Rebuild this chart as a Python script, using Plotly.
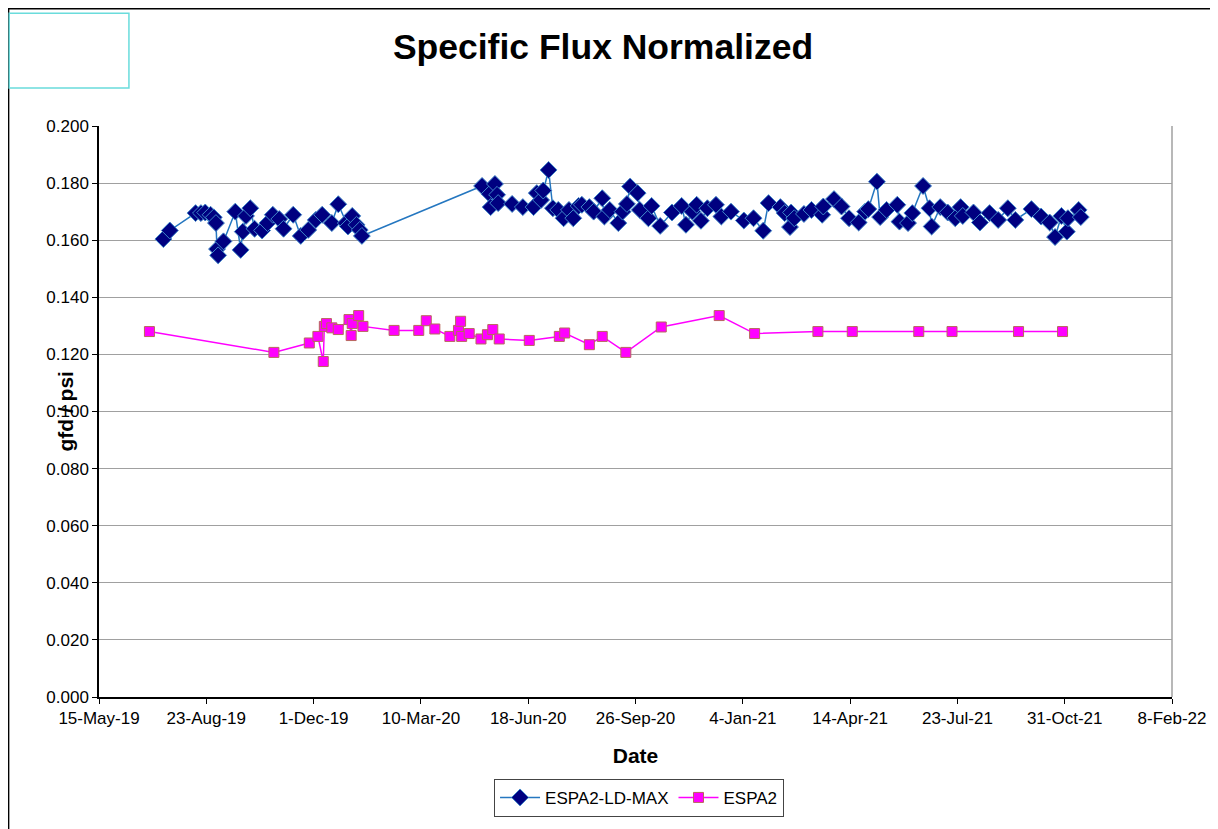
import plotly.graph_objects as go

# ---------------- data ----------------
ld_max_dates = [
    "2019-07-14", "2019-07-20", "2019-08-13", "2019-08-18", "2019-08-22", "2019-08-27", "2019-08-30",
    "2019-09-01", "2019-09-02", "2019-09-03", "2019-09-08", "2019-09-19", "2019-09-24", "2019-09-26",
    "2019-09-29", "2019-10-03", "2019-10-07", "2019-10-14", "2019-10-19", "2019-10-24", "2019-10-30",
    "2019-11-03", "2019-11-12", "2019-11-19", "2019-11-26", "2019-12-03", "2019-12-09", "2019-12-18",
    "2019-12-24", "2019-12-31", "2020-01-02", "2020-01-06", "2020-01-10", "2020-01-13", "2020-01-15",
    "2020-05-06", "2020-05-13", "2020-05-14", "2020-05-18", "2020-05-20", "2020-05-21", "2020-06-03",
    "2020-06-13", "2020-06-23", "2020-06-26", "2020-06-30", "2020-07-02", "2020-07-07", "2020-07-11",
    "2020-07-16", "2020-07-21", "2020-07-26", "2020-07-30", "2020-08-04", "2020-08-07", "2020-08-14",
    "2020-08-18", "2020-08-26", "2020-08-28", "2020-09-02", "2020-09-10", "2020-09-14", "2020-09-18",
    "2020-09-21", "2020-09-28", "2020-09-30", "2020-10-08", "2020-10-11", "2020-10-19", "2020-10-30",
    "2020-11-08", "2020-11-12", "2020-11-18", "2020-11-22", "2020-11-26", "2020-12-02", "2020-12-10",
    "2020-12-15", "2020-12-24", "2021-01-05", "2021-01-14", "2021-01-23", "2021-01-28", "2021-02-08",
    "2021-02-12", "2021-02-17", "2021-02-18", "2021-02-21", "2021-03-02", "2021-03-09", "2021-03-19",
    "2021-03-20", "2021-03-30", "2021-04-06", "2021-04-13", "2021-04-22", "2021-04-28", "2021-05-01",
    "2021-05-09", "2021-05-12", "2021-05-18", "2021-05-28", "2021-05-30", "2021-06-07", "2021-06-11",
    "2021-06-21", "2021-06-27", "2021-06-29", "2021-07-07", "2021-07-14", "2021-07-21", "2021-07-26",
    "2021-07-28", "2021-08-07", "2021-08-13", "2021-08-22", "2021-08-30", "2021-09-08", "2021-09-15",
    "2021-09-30", "2021-10-09", "2021-10-17", "2021-10-22", "2021-10-28", "2021-11-02", "2021-11-03",
    "2021-11-13", "2021-11-15",
]
ld_max_values = [
    0.1604, 0.1634, 0.1695, 0.1695, 0.1697, 0.1689, 0.1680,
    0.1660, 0.1569, 0.1547, 0.1596, 0.1700, 0.1566, 0.1630,
    0.1685, 0.1712, 0.1640, 0.1634, 0.1660, 0.1689, 0.1674,
    0.1640, 0.1689, 0.1615, 0.1636, 0.1671, 0.1689, 0.1660,
    0.1726, 0.1660, 0.1648, 0.1685, 0.1654, 0.1636, 0.1615,
    0.1790, 0.1762, 0.1716, 0.1797, 0.1759, 0.1730, 0.1727,
    0.1716, 0.1716, 0.1765, 0.1741, 0.1774, 0.1846, 0.1712,
    0.1706, 0.1677, 0.1706, 0.1677, 0.1720, 0.1724, 0.1716,
    0.1700, 0.1747, 0.1683, 0.1706, 0.1660, 0.1700, 0.1727,
    0.1788, 0.1765, 0.1706, 0.1677, 0.1720, 0.1650, 0.1697,
    0.1720, 0.1654, 0.1700, 0.1724, 0.1668, 0.1712, 0.1724,
    0.1683, 0.1700, 0.1669, 0.1677, 0.1633, 0.1730, 0.1716,
    0.1695, 0.1646, 0.1697, 0.1677, 0.1692, 0.1706, 0.1689,
    0.1718, 0.1744, 0.1718, 0.1677, 0.1662, 0.1700, 0.1709,
    0.1805, 0.1681, 0.1706, 0.1724, 0.1665, 0.1660, 0.1695,
    0.1790, 0.1712, 0.1648, 0.1716, 0.1697, 0.1677, 0.1716,
    0.1685, 0.1697, 0.1662, 0.1695, 0.1671, 0.1712, 0.1671,
    0.1709, 0.1683, 0.1662, 0.1611, 0.1685, 0.1630, 0.1677,
    0.1706, 0.1681,
]

espa2_dates = [
    "2019-07-01", "2019-10-25", "2019-11-27", "2019-12-05", "2019-12-10", "2019-12-11", "2019-12-13",
    "2019-12-18", "2019-12-24", "2020-01-03", "2020-01-05", "2020-01-06", "2020-01-12", "2020-01-16",
    "2020-02-14", "2020-03-08", "2020-03-15", "2020-03-23", "2020-04-06", "2020-04-14", "2020-04-16",
    "2020-04-17", "2020-04-24", "2020-05-05", "2020-05-11", "2020-05-16", "2020-05-22", "2020-06-19",
    "2020-07-17", "2020-07-22", "2020-08-14", "2020-08-26", "2020-09-17", "2020-10-20", "2020-12-13",
    "2021-01-15", "2021-03-15", "2021-04-16", "2021-06-17", "2021-07-18", "2021-09-18", "2021-10-29",
]
espa2_values = [
    0.1280, 0.1207, 0.1240, 0.1263, 0.1175, 0.1298, 0.1308,
    0.1293, 0.1287, 0.1322, 0.1266, 0.1308, 0.1336, 0.1298,
    0.1284, 0.1284, 0.1318, 0.1289, 0.1263, 0.1284, 0.1316,
    0.1263, 0.1273, 0.1254, 0.1269, 0.1287, 0.1254, 0.1249,
    0.1263, 0.1275, 0.1234, 0.1263, 0.1207, 0.1296, 0.1336,
    0.1273, 0.1280, 0.1280, 0.1280, 0.1280, 0.1280, 0.1280,
]

x_tick_dates = ["2019-05-15", "2019-08-23", "2019-12-01", "2020-03-10", "2020-06-18", "2020-09-26",
                "2021-01-04", "2021-04-14", "2021-07-23", "2021-10-31", "2022-02-08"]
x_tick_labels = ["15-May-19", "23-Aug-19", "1-Dec-19", "10-Mar-20", "18-Jun-20", "26-Sep-20",
                 "4-Jan-21", "14-Apr-21", "23-Jul-21", "31-Oct-21", "8-Feb-22"]
y_tick_vals = [0.0, 0.02, 0.04, 0.06, 0.08, 0.10, 0.12, 0.14, 0.16, 0.18, 0.20]

FONT = "Liberation Sans, Arial, sans-serif"

fig = go.Figure()
fig.add_trace(go.Scatter(
    x=ld_max_dates, y=ld_max_values, name="ESPA2-LD-MAX", mode="lines+markers",
    line=dict(color="#2577c0", width=1.5),
    marker=dict(symbol="diamond", size=13, color="#000080", line=dict(color="#3f86c8", width=1)),
))
fig.add_trace(go.Scatter(
    x=espa2_dates, y=espa2_values, name="ESPA2", mode="lines+markers",
    line=dict(color="#ff00ff", width=1.5),
    marker=dict(symbol="square", size=10, color="#ff00ff", line=dict(color="#b8685c", width=1)),
))

fig.update_layout(
    width=1210, height=821,
    margin=dict(l=91, r=44, t=118, b=131),
    paper_bgcolor="white", plot_bgcolor="white",
    font=dict(family=FONT, color="black", size=17),
    title=dict(text="<b>Specific Flux Normalized</b>", x=595 / 1210, xref="container", xanchor="center",
               y=1 - 39 / 821, yref="container", yanchor="middle",
               font=dict(family=FONT, size=35.5, color="black")),
    showlegend=True,
    legend=dict(orientation="h", x=0.5033, xanchor="center", y=-0.1434, yanchor="top",
                bordercolor="#444444", borderwidth=1, bgcolor="white",
                font=dict(family=FONT, size=17, color="black"),
                itemwidth=40, tracegroupgap=0),
    xaxis=dict(
        type="date", range=["2019-05-15", "2022-02-08"],
        tickmode="array", tickvals=x_tick_dates, ticktext=x_tick_labels,
        ticks="outside", ticklen=5, tickcolor="black", tickwidth=1,
        showline=True, linecolor="black", linewidth=1.5,
        showgrid=False, zeroline=False,
        tickfont=dict(family=FONT, size=17, color="black"),
        title=dict(text="<b>Date</b>", font=dict(family=FONT, size=21, color="black"), standoff=21),
    ),
    yaxis=dict(
        range=[0, 0.2], tickmode="array", tickvals=y_tick_vals, tickformat=".3f",
        ticks="outside", ticklen=5, tickcolor="black", tickwidth=1,
        showline=True, linecolor="black", linewidth=1.5,
        showgrid=True, gridcolor="#a0a0a0", gridwidth=1, zeroline=False,
        tickfont=dict(family=FONT, size=17, color="black"),
    ),
    shapes=[
        # right edge of plot area
        dict(type="line", xref="paper", yref="paper", x0=1, x1=1, y0=0, y1=1,
             line=dict(color="#a0a0a0", width=1.5)),
        # outer frame of chart
        dict(type="rect", xref="paper", yref="paper", x0=-0.0847, x1=1.1, y0=-0.3, y1=1.2063,
             line=dict(color="black", width=2.5), layer="below"),
        # cyan box top-left
        dict(type="rect", xref="paper", yref="paper", x0=-0.0837, x1=0.0279, y0=1.0664, y1=1.1976,
             line=dict(color="#6adcdc", width=1.5)),
    ],
    annotations=[
        dict(text="<b>gfd / psi</b>", textangle=-90, xref="paper", yref="paper",
             x=(65 - 99) / 1075, y=(698 - 412) / 572, xanchor="center", yanchor="middle",
             showarrow=False, font=dict(family=FONT, size=21, color="black")),
    ],
)

fig.write_html("out.html")
